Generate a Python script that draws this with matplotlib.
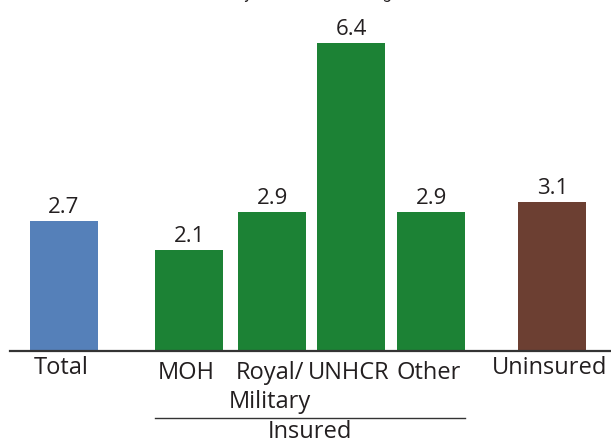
import matplotlib
matplotlib.use("Agg")
import matplotlib.pyplot as plt
import matplotlib.transforms as mtransforms

# mean values per coverage group
categories = ["Total", "MOH", "Royal/\nMilitary", "UNHCR", "Other", "Uninsured"]
values = [2.7, 2.1, 2.9, 6.4, 2.9, 3.1]
group_label = "Insured"
title = "Mean number of visits by insurance coverage"

BLUE = "#5580B9"
GREEN = "#1C8235"
BROWN = "#6C3F32"
TEXT = "#231F20"
colors = [BLUE, GREEN, GREEN, GREEN, GREEN, BROWN]

# bar centres (insured bars sit together, Total/Uninsured set apart)
xpos = [0, 1.57, 2.61, 3.6, 4.6, 6.11]
width = 0.85

plt.rcParams["font.family"] = ["Open Sans", "DejaVu Sans"]

W, H = 611, 443
fig = plt.figure(figsize=(W / 100, H / 100), dpi=100)
ax = fig.add_axes([10 / W, 92 / H, 601 / W, 351 / H])

bars = ax.bar(xpos, values, width=width, color=colors)

for x, v in zip(xpos, values):
    ax.annotate(f"{v:.1f}", (x, v), xytext=(0, 2), textcoords="offset points",
                ha="center", va="bottom", fontsize=16, color=TEXT)

# category labels under the axis
for i, (x, lab) in enumerate(zip(xpos, categories)):
    dy = -3.5 if i in (0, 5) else -7
    ax.annotate(lab, (x - 0.03, 0), xycoords=("data", "axes fraction"),
                xytext=(0, dy), textcoords="offset points",
                ha="center", va="top", fontsize=17, color=TEXT,
                linespacing=1.3)

# bracket for the insured group
trans = mtransforms.blended_transform_factory(ax.transData, ax.transAxes)
x0 = xpos[1] - width / 2
x1 = xpos[4] + width / 2
ax.plot([x0, x1], [-0.190, -0.190], color="#333333", lw=1.0,
        transform=trans, clip_on=False)
ax.text((x0 + x1) / 2, -0.197, group_label, transform=trans,
        ha="center", va="top", fontsize=17, color=TEXT)

# heading sits above the visible area, only descenders show
fig.text(66 / W, 444 / H, title, ha="left", va="baseline",
         fontsize=12, color=TEXT, family="Roboto")

ax.set_xlim(-0.669, 6.844)
ax.set_ylim(0, 7.30)
for s in ["top", "right", "left"]:
    ax.spines[s].set_visible(False)
ax.spines["bottom"].set_color("#333333")
ax.spines["bottom"].set_linewidth(1.6)
ax.set_xticks([])
ax.set_yticks([])

fig.savefig("out.png", dpi=100)
